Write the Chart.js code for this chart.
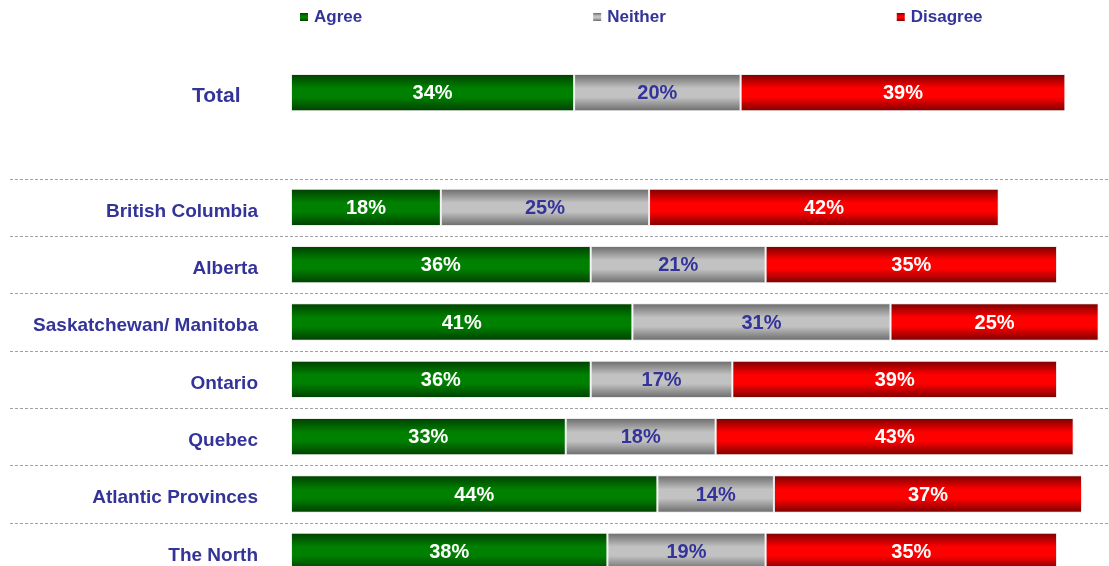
<!DOCTYPE html>
<html><head><meta charset="utf-8">
<script src="https://cdn.jsdelivr.net/npm/chart.js@4.4.1/dist/chart.umd.min.js"></script>
<style>html,body{margin:0;padding:0;background:#fff;overflow:hidden;} #wrap{position:relative;width:1109px;height:580px;}</style>
</head><body><div id="wrap"><canvas id="c"></canvas></div>
<script>
const categories = ['Total', '', 'British Columbia', 'Alberta', 'Saskatchewan/ Manitoba', 'Ontario', 'Quebec', 'Atlantic Provinces', 'The North'];
const agree    = [34, null, 18, 36, 41, 36, 33, 44, 38];
const neither  = [20, null, 25, 21, 31, 17, 18, 14, 19];
const disagree = [39, null, 42, 35, 25, 39, 43, 37, 35];
const seriesNames = ['Agree', 'Neither', 'Disagree'];

const FONT = "'Liberation Sans', Arial, sans-serif";
const NAVY = '#333399';
const BAR_PCT = 0.65;
const palette = [
  {dark: '#003f00', light: '#008000', text: '#ffffff'},
  {dark: '#6a6a6a', light: '#c2c2c2', text: NAVY},
  {dark: '#7a0000', light: '#ff0000', text: '#ffffff'}
];

function makeGrad(ctx2d, y0, y1, p) {
  const g = ctx2d.createLinearGradient(0, y0, 0, y1);
  g.addColorStop(0, p.dark);
  g.addColorStop(0.38, p.light);
  g.addColorStop(0.62, p.light);
  g.addColorStop(1, p.dark);
  return g;
}

function barFill(p) {
  return (c) => {
    const chart = c.chart;
    const y = chart.scales && chart.scales.y;
    if (c.type !== 'data' || !y || !chart.chartArea) return p.light;
    const center = y.getPixelForValue(c.dataIndex);
    const half = (y.getPixelForValue(1) - y.getPixelForValue(0)) * BAR_PCT / 2;
    return makeGrad(chart.ctx, center - half, center + half, p);
  };
}

const dashPlugin = {
  id: 'dashes',
  beforeDatasetsDraw(chart) {
    const y = chart.scales.y, ctx = chart.ctx;
    ctx.save();
    ctx.strokeStyle = '#a0a0a0';
    ctx.lineWidth = 1;
    ctx.setLineDash([3, 2]);
    for (let i = 2; i < categories.length; i++) {
      const py = Math.round((y.getPixelForValue(i - 1) + y.getPixelForValue(i)) / 2) + 0.5;
      ctx.beginPath();
      ctx.moveTo(10, py);
      ctx.lineTo(chart.width, py);
      ctx.stroke();
    }
    ctx.restore();
  }
};

const labelPlugin = {
  id: 'vals',
  afterDatasetsDraw(chart) {
    const ctx = chart.ctx;
    ctx.save();
    ctx.font = "bold 20px " + FONT;
    ctx.textAlign = 'center';
    ctx.textBaseline = 'middle';
    chart.data.datasets.forEach((ds, di) => {
      const meta = chart.getDatasetMeta(di);
      ctx.fillStyle = palette[di].text;
      meta.data.forEach((bar, i) => {
        const v = ds.data[i];
        if (v == null) return;
        const p = bar.getProps(['x', 'y', 'base'], true);
        ctx.fillText(v + '%', (p.x + p.base) / 2, p.y + 1);
      });
    });
    ctx.restore();
  }
};

const legendPlugin = {
  id: 'customLegend',
  afterDraw(chart) {
    const ctx = chart.ctx;
    ctx.save();
    ctx.font = "bold 17px " + FONT;
    ctx.textBaseline = 'middle';
    ctx.textAlign = 'left';
    let x = chart.chartArea.left + 9;
    const yc = 17;
    chart.data.datasets.forEach((ds, di) => {
      ctx.fillStyle = makeGrad(ctx, yc - 4, yc + 4, palette[di]);
      ctx.fillRect(x, yc - 4, 8, 8);
      ctx.fillStyle = NAVY;
      ctx.fillText(ds.label, x + 14, yc);
      x += 14 + ctx.measureText(ds.label).width + 231;
    });
    ctx.restore();
  }
};

const seriesData = [agree, neither, disagree];
new Chart(document.getElementById('c'), {
  type: 'bar',
  data: {
    labels: categories,
    datasets: seriesNames.map((name, i) => ({
      label: name,
      data: seriesData[i],
      backgroundColor: barFill(palette[i]),
      borderColor: '#ececec',
      borderWidth: 1,
      borderSkipped: false,
      barPercentage: BAR_PCT,
      categoryPercentage: 1
    }))
  },
  options: {
    indexAxis: 'y',
    responsive: true,
    maintainAspectRatio: false,
    animation: false,
    layout: {padding: {top: 64, right: 2, left: 0, bottom: 0}},
    plugins: {legend: {display: false}, tooltip: {enabled: false}},
    scales: {
      x: {type: 'linear', stacked: true, min: 0, max: 98, display: false},
      y: {
        stacked: true,
        grid: {display: false, drawTicks: false},
        border: {display: false},
        afterFit(scale) { scale.width = 291; scale.paddingTop = 0; scale.paddingBottom = 0; },
        ticks: {
          padding: 33,
          labelOffset: 4,
          color: NAVY,
          callback: function (v, i) { const l = this.getLabelForValue(v); return i === 0 ? l + '\u00A0\u00A0\u00A0' : l; },
          font: (c) => c.index === 0 ? {family: FONT, size: 21, weight: 'bold'} : {family: FONT, size: 19, weight: 'bold'}
        }
      }
    }
  },
  plugins: [dashPlugin, labelPlugin, legendPlugin]
});
</script>
</body></html>
